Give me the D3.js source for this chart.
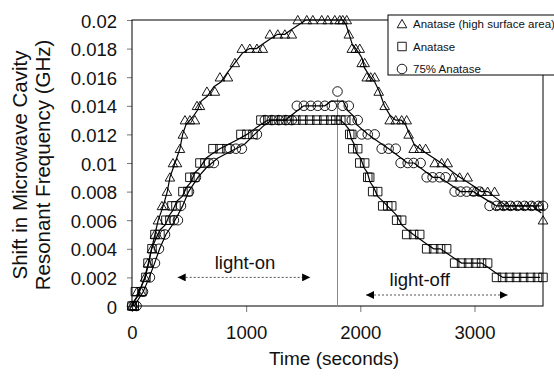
<!DOCTYPE html>
<html>
<head>
<meta charset="utf-8">
<script src="https://cdn.jsdelivr.net/npm/d3@7"></script>
<style>
  body { margin: 0; background: #fff; }
  text { font-family: "Liberation Sans", Arial, sans-serif; fill: #111; }
</style>
</head>
<body>
<svg id="chart" width="554" height="378"></svg>
<script>
// --- data (time in s, shift in GHz) ---
const hsaTime = [0, 20, 44, 80, 114, 140, 175, 200, 227, 262, 289, 306, 332, 359, 394, 420, 446, 464, 507, 551,
  569, 595, 656, 726, 770, 840, 901, 962, 1032, 1094, 1146, 1207, 1277, 1339, 1400, 1452, 1531, 1584, 1662, 1715,
  1776, 1820, 1846, 1881, 1899, 1925, 1960, 1995, 2012, 2038, 2056, 2091, 2126, 2161, 2213, 2257, 2310, 2362, 2406,
  2423, 2467, 2520, 2572, 2651, 2712, 2765, 2808, 2870, 2940, 3001, 3062, 3115, 3176, 3220, 3281, 3333, 3395, 3456,
  3508, 3570, 3600]
const hsaShift = [0, 0, 0.001, 0.001, 0.002, 0.003, 0.004, 0.005, 0.006, 0.007, 0.007, 0.008, 0.009, 0.01, 0.01, 0.011,
  0.012, 0.013, 0.013, 0.013, 0.014, 0.014, 0.015, 0.015, 0.016, 0.016, 0.017, 0.018, 0.018, 0.018, 0.018, 0.019, 0.019,
  0.019, 0.019, 0.02, 0.02, 0.02, 0.02, 0.02, 0.02, 0.02, 0.02, 0.02, 0.019, 0.018, 0.018, 0.018, 0.017, 0.017, 0.016,
  0.016, 0.016, 0.015, 0.014, 0.013, 0.013, 0.013, 0.013, 0.012, 0.011, 0.011, 0.011, 0.01, 0.01, 0.01, 0.009, 0.009,
  0.009, 0.008, 0.008, 0.008, 0.008, 0.007, 0.007, 0.007, 0.007, 0.007, 0.007, 0.007, 0.006]

const anaTime = [0, 20, 30, 87, 122, 140, 175, 201, 245, 297, 332, 350, 385, 446, 490, 507, 551, 595, 639, 709, 770, 831,
  954, 1006, 1059, 1129, 1190, 1251, 1312, 1374, 1435, 1496, 1557, 1619, 1680, 1741, 1785, 1829, 1872, 1907, 1925, 1934,
  1977, 1995, 2038, 2065, 2082, 2108, 2152, 2196, 2240, 2275, 2318, 2362, 2406, 2467, 2520, 2581, 2642, 2703, 2756,
  2826, 2887, 2948, 3010, 3062, 3115, 3193, 3246, 3307, 3368, 3430, 3491, 3552, 3600]
const anaShift = [0, 0, 0.001, 0.001, 0.002, 0.003, 0.004, 0.005, 0.005, 0.006, 0.006, 0.007, 0.007, 0.008, 0.008, 0.009,
  0.009, 0.01, 0.01, 0.011, 0.011, 0.011, 0.012, 0.012, 0.012, 0.013, 0.013, 0.013, 0.013, 0.013, 0.013, 0.013, 0.013,
  0.013, 0.013, 0.013, 0.013, 0.013, 0.013, 0.012, 0.012, 0.011, 0.011, 0.01, 0.01, 0.009, 0.009, 0.008, 0.008, 0.007,
  0.007, 0.007, 0.006, 0.006, 0.005, 0.005, 0.005, 0.004, 0.004, 0.004, 0.004, 0.003, 0.003, 0.003, 0.003, 0.003, 0.003,
  0.002, 0.002, 0.002, 0.002, 0.002, 0.002, 0.002, 0.002]

const a75Time = [0, 40, 96, 157, 201, 236, 289, 367, 402, 429, 499, 560, 674, 717, 857, 910, 962, 1094, 1164, 1225, 1286,
  1347, 1400, 1444, 1505, 1566, 1627, 1689, 1750, 1800, 1846, 1899, 1925, 1977, 2012, 2065, 2126, 2187, 2248, 2310,
  2353, 2415, 2467, 2528, 2581, 2633, 2695, 2747, 2826, 2878, 2931, 2992, 3045, 3132, 3193, 3255, 3316, 3377, 3438,
  3500, 3561, 3600]
const a75Shift = [0, 0, 0.001, 0.002, 0.003, 0.004, 0.005, 0.006, 0.006, 0.007, 0.008, 0.009, 0.01, 0.01, 0.011, 0.011,
  0.011, 0.012, 0.013, 0.013, 0.013, 0.013, 0.013, 0.014, 0.014, 0.014, 0.014, 0.014, 0.014, 0.015, 0.014, 0.014, 0.013,
  0.013, 0.012, 0.012, 0.012, 0.011, 0.011, 0.011, 0.01, 0.01, 0.01, 0.01, 0.009, 0.009, 0.009, 0.009, 0.008, 0.008,
  0.008, 0.008, 0.008, 0.007, 0.007, 0.007, 0.007, 0.007, 0.007, 0.007, 0.007, 0.007]

const seriesNames = ['Anatase (high surface area)', 'Anatase', '75% Anatase']
const xTicks = [0, 1000, 2000, 3000]
const yTicks = [0, 0.002, 0.004, 0.006, 0.008, 0.01, 0.012, 0.014, 0.016, 0.018, 0.02]
const yTickLabels = ['0', '0.002', '0.004', '0.006', '0.008', '0.01', '0.012', '0.014', '0.016', '0.018', '0.02']
const lightOn = [400, 1560]    // arrow span (s)
const lightOnLabelAt = 990
const lightOff = [2050, 3290]
const lightOffLabelAt = 2520
const lightOffAt = 1800

// --- layout ---
const W = 554, H = 378
const m = {left: 132, top: 20, right: 11, bottom: 72}
const pw = W - m.left - m.right, ph = H - m.top - m.bottom

const svg = d3.select('#chart')
const g = svg.append('g').attr('transform', `translate(${m.left},${m.top})`)

const x = d3.scaleLinear().domain([0, 3600]).range([0, pw])
const y = d3.scaleLinear().domain([0, 0.02]).range([ph, 0])

// axes (ticks only, the frame is a rect)
const yAxis = d3.axisLeft(y).tickValues(yTicks).tickFormat((d, i) => yTickLabels[i]).tickSize(5).tickPadding(10).tickSizeOuter(0)
const gy = g.append('g').call(yAxis)
gy.select('.domain').remove()
gy.selectAll('line').attr('stroke', '#777')
gy.selectAll('text').style('font-size', '18.5px').attr('dy', '0.38em')

const xAxis = d3.axisBottom(x).tickValues(xTicks).tickFormat(d3.format('d')).tickSize(6).tickPadding(14).tickSizeOuter(0)
const gx = g.append('g').attr('transform', `translate(0,${ph})`).call(xAxis)
gx.select('.domain').remove()
gx.selectAll('line').attr('stroke', '#777')
gx.selectAll('text').style('font-size', '18.5px')

// frame
g.append('rect').attr('width', pw).attr('height', ph).attr('fill', 'none').attr('stroke', '#000').attr('stroke-width', 1)

// light-off marker line
g.append('line').attr('x1', x(lightOffAt)).attr('x2', x(lightOffAt)).attr('y1', y(0)).attr('y2', y(0.0145))
  .attr('stroke', '#888').attr('stroke-width', 1)

// series
const zip = (ts, vs) => ts.map((t, i) => ({t: t, v: vs[i]}))
const series = [
  {name: seriesNames[0], pts: zip(hsaTime, hsaShift), sym: 'tri'},
  {name: seriesNames[1], pts: zip(anaTime, anaShift), sym: 'sq'},
  {name: seriesNames[2], pts: zip(a75Time, a75Shift), sym: 'circ'},
]

// 3 point moving average trend line
const movAvg = pts => pts.map((p, i) => {
  const w = pts.slice(Math.max(0, i - 1), Math.min(pts.length, i + 2))
  return {t: d3.mean(w, d => d.t), v: d3.mean(w, d => d.v)}
})

const symPath = {
  tri: d3.symbol(d3.symbolTriangle, 40)(),
  sq: d3.symbol(d3.symbolSquare, 72)(),
  circ: d3.symbol(d3.symbolCircle, 72)(),
}

const line = d3.line().x(d => x(d.t)).y(d => y(d.v))

series.forEach(s => {
  g.append('g').selectAll('path').data(s.pts).enter().append('path')
    .attr('d', symPath[s.sym])
    .attr('transform', d => `translate(${x(d.t)},${y(d.v) + (s.sym === 'tri' ? 1 : 0)})`)
    .attr('fill', 'none').attr('stroke', '#000').attr('stroke-width', 0.9)
})
series.forEach(s => {
  g.append('path').datum(movAvg(s.pts)).attr('d', line)
    .attr('fill', 'none').attr('stroke', '#000').attr('stroke-width', 1.2)
})

// arrows
const defs = svg.append('defs')
;['arrEnd', 'arrStart'].forEach((id, k) => {
  defs.append('marker').attr('id', id).attr('viewBox', '0 0 10 10').attr('refX', k ? 0 : 10).attr('refY', 5)
    .attr('markerWidth', 8).attr('markerHeight', 8).attr('markerUnits', 'userSpaceOnUse').attr('orient', 'auto')
    .append('path').attr('d', k ? 'M10,0 L0,5 L10,10 Z' : 'M0,0 L10,5 L0,10 Z').attr('fill', '#000')
})
const arrow = (span, v, label, labelAt, dyLabel) => {
  g.append('line').attr('x1', x(span[0])).attr('x2', x(span[1])).attr('y1', y(v)).attr('y2', y(v))
    .attr('stroke', '#555').attr('stroke-width', 1).attr('stroke-dasharray', '2,2')
    .attr('marker-start', 'url(#arrStart)').attr('marker-end', 'url(#arrEnd)')
  g.append('text').attr('x', x(labelAt)).attr('y', y(v) + dyLabel)
    .attr('text-anchor', 'middle').style('font-size', '18.5px').text(label)
}
arrow(lightOn, 0.002, 'light-on', lightOnLabelAt, -8)
arrow(lightOff, 0.00077, 'light-off', lightOffLabelAt, -9)

// legend
const lg = svg.append('g').attr('transform', 'translate(388,15)')
lg.append('rect').attr('width', 190).attr('height', 60).attr('fill', '#fff').attr('stroke', '#000').attr('stroke-width', 1)
series.forEach((s, i) => {
  const yy = 9 + i * 22.5
  lg.append('path').attr('d', symPath[s.sym]).attr('transform', `translate(14,${yy + (s.sym === 'tri' ? 1 : 0)})`)
    .attr('fill', 'none').attr('stroke', '#000').attr('stroke-width', 0.9)
  lg.append('text').attr('x', 25).attr('y', yy + 4).style('font-size', '11.5px').text(s.name)
})

// axis titles
svg.append('text').attr('x', 334).attr('y', 365).attr('text-anchor', 'middle')
  .style('font-size', '19px').text('Time (seconds)')
const yt = svg.append('text').attr('transform', 'translate(0,165) rotate(-90)').attr('text-anchor', 'middle')
  .style('font-size', '20.5px')
yt.append('tspan').attr('x', 0).attr('y', 27).text('Shift in Microwave Cavity')
yt.append('tspan').attr('x', 0).attr('y', 50).text('Resonant Frequency (GHz)')
</script>
</body>
</html>
